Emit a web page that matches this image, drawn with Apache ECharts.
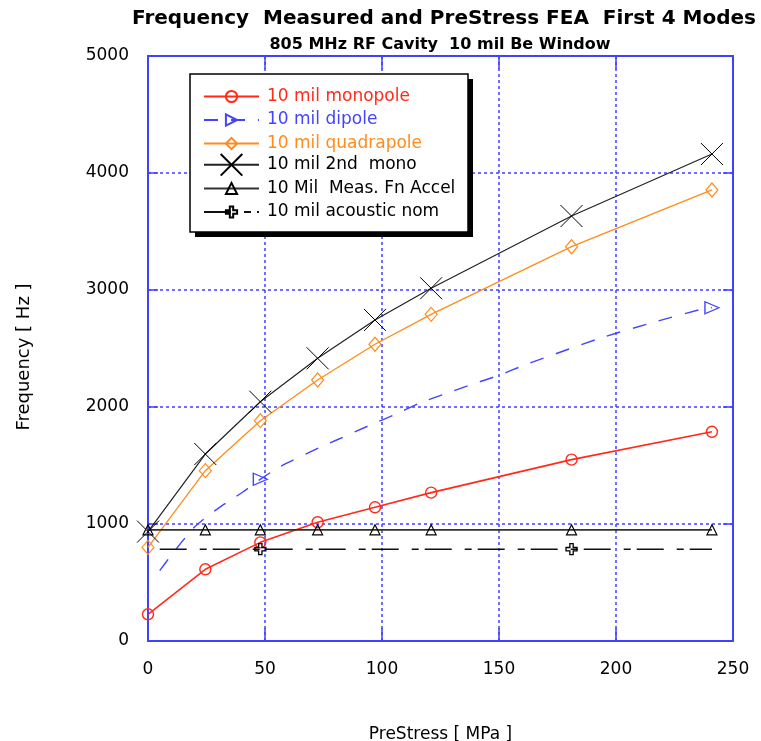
<!DOCTYPE html>
<html>
<head>
<meta charset="utf-8">
<script src="https://cdn.jsdelivr.net/npm/echarts@6/dist/echarts.min.js"></script>
<style>html,body{margin:0;padding:0;background:#fff}#c{width:761px;height:741px}</style>
</head>
<body>
<div id="c"></div>
<script>
// ---- data ----
var stressX = [0, 24.5, 48, 72.5, 97, 121, 181, 241];
var monopole = [228, 613, 843, 1015, 1143, 1268, 1550, 1788];
var quadrapole = [800, 1456, 1883, 2231, 2536, 2792, 3370, 3855];
var mono2nd = [935, 1598, 2045, 2416, 2744, 3015, 3632, 4162];
var measAccel = [950, 950, 950, 950, 950, 950, 950, 950];

var dipoleX = [5, 10, 20, 30, 40.7, 48, 56.4, 74, 80.6, 95, 106, 116, 127.6, 139, 150.4, 161, 193, 214.5, 238, 241];
var dipoleY = [601, 735, 977, 1134, 1276, 1382, 1490, 1661, 1718, 1846, 1940, 2032, 2117, 2197, 2274, 2359, 2587, 2715, 2844, 2849];
var dipoleMarkerX = [48, 241];

var acousticX = [5, 48, 181, 241];
var acousticY = [785, 785, 785, 785];
var acousticMarkerX = [48, 181];

var xTicks = [0, 50, 100, 150, 200, 250];
var yTicks = [0, 1000, 2000, 3000, 4000, 5000];

var names = ['10 mil monopole', '10 mil dipole', '10 mil quadrapole', '10 mil 2nd  mono', '10 Mil  Meas. Fn Accel', '10 mil acoustic nom'];
var colors = ['#ff2a1a', '#4444ff', '#ff8c1a', '#000000', '#000000', '#000000'];

// ---- helpers ----
function pairs(xs, ys) { return xs.map(function (x, i) { return [x, ys[i]]; }); }
function pairsMarked(xs, ys, marked) {
  return xs.map(function (x, i) {
    return marked.indexOf(x) >= 0 ? { value: [x, ys[i]] } : { value: [x, ys[i]], symbol: 'none' };
  });
}
var AX = '#4040ff';
var FONT = 'DejaVu Sans, Verdana, sans-serif';

var symRightTri = 'path://M0,0L10,5L0,10Z';
var symX = 'path://M0,0L10,10M10,0L0,10';
var symPlus = 'path://M3.5,0H6.5V3.5H10V6.5H6.5V10H3.5V6.5H0V3.5H3.5Z';
var symUpTri = 'path://M5,0L10,10L0,10Z';

function hollow(c, w) { return { color: 'none', borderColor: c, borderWidth: w || 1 }; }

var series = [
  { name: names[0], type: 'line', data: pairs(stressX, monopole), symbol: 'circle', symbolSize: 11,
    itemStyle: hollow(colors[0], 1.4), lineStyle: { color: colors[0], width: 1.6 }, z: 3 },
  { name: names[1], type: 'line', data: pairsMarked(dipoleX, dipoleY, dipoleMarkerX), symbol: symRightTri, symbolSize: [14, 12],
    smooth: 0.2, itemStyle: hollow(colors[1], 1.3), lineStyle: { color: colors[1], width: 1.4, type: [14, 13] }, z: 3 },
  { name: names[2], type: 'line', data: pairs(stressX, quadrapole), symbol: 'diamond', symbolSize: [12, 14],
    itemStyle: hollow(colors[2], 1.2), lineStyle: { color: colors[2], width: 1.3 }, z: 3 },
  { name: names[3], type: 'line', data: pairs(stressX, mono2nd), symbol: symX, symbolSize: 22,
    itemStyle: hollow(colors[3], 1), lineStyle: { color: '#222', width: 1.2 }, z: 3 },
  { name: names[4], type: 'line', data: pairs(stressX, measAccel), symbol: symUpTri, symbolSize: [10, 10],
    itemStyle: hollow(colors[4], 1.2), lineStyle: { color: '#333', width: 1.6 }, z: 3 },
  { name: names[5], type: 'line', data: pairsMarked(acousticX, acousticY, acousticMarkerX), symbol: symPlus, symbolSize: 11,
    itemStyle: hollow(colors[5], 1.3), lineStyle: { color: '#111', width: 1.5, type: [27, 13, 7, 6] }, z: 3 }
];

function legendItem(i) {
  return { name: names[i], textStyle: { color: colors[i] } };
}
var legendBase = {
  orient: 'vertical', left: 203, padding: 0, itemWidth: 55, selectedMode: false, z: 6,
  textStyle: { fontFamily: FONT, fontSize: 17, padding: [0, 0, 0, 3] }
};
function mkLegend(items, top, itemHeight, gap) {
  var o = JSON.parse(JSON.stringify(legendBase));
  o.top = top; o.itemHeight = itemHeight; o.itemGap = gap;
  o.data = items.map(legendItem);
  return o;
}

var option = {
  animation: false,
  backgroundColor: '#fff',
  title: [
    { text: 'Frequency  Measured and PreStress FEA  First 4 Modes', left: 444, top: 9, textAlign: 'center', padding: 0,
      textStyle: { fontFamily: FONT, fontSize: 20, fontWeight: 'bold', color: '#000' } },
    { text: '805 MHz RF Cavity  10 mil Be Window', left: 440, top: 37, textAlign: 'center', padding: 0,
      textStyle: { fontFamily: FONT, fontSize: 16, fontWeight: 'bold', color: '#000' } }
  ],
  grid: { left: 148, right: 28, top: 56, bottom: 100, containLabel: false, outerBoundsMode: 'none' },
  xAxis: [
    { type: 'value', min: 0, max: 250, interval: 50, position: 'bottom',
      name: 'PreStress [ MPa ]', nameLocation: 'middle', nameGap: 85,
      nameTextStyle: { fontFamily: FONT, fontSize: 17, color: '#000' },
      axisLine: { onZero: false, lineStyle: { color: AX, width: 2 } },
      axisTick: { inside: true, length: 13, lineStyle: { color: AX, width: 1.5 } },
      axisLabel: { margin: 20, fontFamily: FONT, fontSize: 17, color: '#000',
        formatter: function (v) { return xTicks.indexOf(v) >= 0 ? String(v) : ''; } },
      splitLine: { show: true, lineStyle: { color: AX, width: 1.5, type: [3, 3] } } },
    { type: 'value', min: 0, max: 250, interval: 50, position: 'top',
      axisLine: { onZero: false, lineStyle: { color: AX, width: 2 } },
      axisTick: { inside: true, length: 13, lineStyle: { color: AX, width: 1.5 } },
      axisLabel: { show: false }, splitLine: { show: false } }
  ],
  yAxis: [
    { type: 'value', min: 0, max: 5000, interval: 1000, position: 'left',
      name: 'Frequency [ Hz ]', nameLocation: 'middle', nameGap: 115,
      nameTextStyle: { fontFamily: FONT, fontSize: 18, color: '#000', padding: [0, 17, 0, 0] },
      axisLine: { onZero: false, lineStyle: { color: AX, width: 2 } },
      axisTick: { inside: true, length: 10, lineStyle: { color: AX, width: 1.5 } },
      axisLabel: { margin: 19, fontFamily: FONT, fontSize: 17, color: '#000',
        formatter: function (v) { return yTicks.indexOf(v) >= 0 ? String(v) : ''; } },
      splitLine: { show: true, lineStyle: { color: AX, width: 1.5, type: [3, 3] } } },
    { type: 'value', min: 0, max: 5000, interval: 1000, position: 'right',
      axisLine: { onZero: false, lineStyle: { color: AX, width: 2 } },
      axisTick: { inside: true, length: 10, lineStyle: { color: AX, width: 1.5 } },
      axisLabel: { show: false }, splitLine: { show: false } }
  ],
  legend: [
    mkLegend([0, 1, 2], 88, 14, 6.5),
    mkLegend([3], 151.5, 27, 0),
    mkLegend([4, 5], 180, 14, 6.5)
  ],
  graphic: [
    { type: 'rect', z: 4, shape: { x: 195, y: 79, width: 278, height: 158 }, style: { fill: '#000' } },
    { type: 'rect', z: 5, shape: { x: 190, y: 74, width: 278, height: 158 }, style: { fill: '#fff', stroke: '#000', lineWidth: 1.5 } }
  ],
  series: series
};

var chart = echarts.init(document.getElementById('c'), null, { renderer: 'canvas' });
chart.setOption(option);
</script>
</body>
</html>
